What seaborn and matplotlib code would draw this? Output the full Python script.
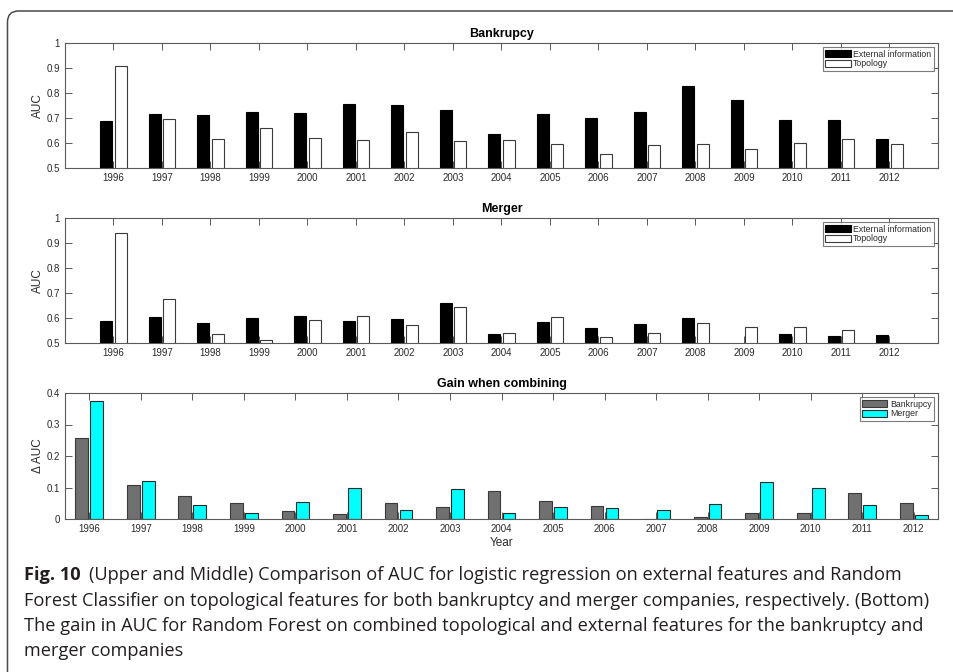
import matplotlib
matplotlib.use("Agg")
import matplotlib.pyplot as plt
import pandas as pd
import seaborn as sns
from matplotlib.patches import Patch, PathPatch
from matplotlib.path import Path

# ---- data -------------------------------------------------------------
years = ["1996", "1997", "1998", "1999", "2000", "2001", "2002", "2003", "2004",
         "2005", "2006", "2007", "2008", "2009", "2010", "2011", "2012"]

bankruptcy_external = [0.690, 0.718, 0.711, 0.723, 0.721, 0.757, 0.752, 0.731, 0.635,
                       0.715, 0.699, 0.724, 0.830, 0.773, 0.691, 0.691, 0.615]
bankruptcy_topology = [0.910, 0.696, 0.615, 0.660, 0.621, 0.611, 0.643, 0.607, 0.613,
                       0.597, 0.557, 0.593, 0.597, 0.578, 0.601, 0.617, 0.595]

merger_external = [0.587, 0.603, 0.581, 0.600, 0.609, 0.588, 0.597, 0.659, 0.535,
                   0.584, 0.559, 0.575, 0.600, 0.490, 0.537, 0.529, 0.533]
merger_topology = [0.940, 0.677, 0.536, 0.512, 0.593, 0.608, 0.572, 0.643, 0.541,
                   0.604, 0.524, 0.541, 0.579, 0.564, 0.564, 0.553, 0.490]

gain_bankruptcy = [0.257, 0.107, 0.074, 0.050, 0.024, 0.016, 0.052, 0.038, 0.090,
                   0.056, 0.041, 0.000, 0.005, 0.020, 0.018, 0.083, 0.052]
gain_merger = [0.375, 0.122, 0.044, 0.020, 0.053, 0.097, 0.027, 0.094, 0.020,
               0.037, 0.035, 0.027, 0.049, 0.116, 0.098, 0.043, 0.012]

auc_ticks = [0.5, 0.6, 0.7, 0.8, 0.9, 1.0]
auc_labels = ["0.5", "0.6", "0.7", "0.8", "0.9", "1"]
gain_ticks = [0.0, 0.1, 0.2, 0.3, 0.4]
gain_labels = ["0", "0.1", "0.2", "0.3", "0.4"]

auc_series = ["External information", "Topology"]
gain_series = ["Bankrupcy", "Merger"]

caption_head = "Fig. 10"
caption_lines = [
    "(Upper and Middle) Comparison of AUC for logistic regression on external features and Random",
    "Forest Classifier on topological features for both bankruptcy and merger companies, respectively. (Bottom)",
    "The gain in AUC for Random Forest on combined topological and external features for the bankruptcy and",
    "merger companies",
]

# ---- style --------------------------------------------------------------
sns.set_style("white")
plt.rcParams["font.family"] = ["Liberation Sans", "DejaVu Sans"]
SPINE = "#5a5a5a"
TEXT = "#2a2a2a"

W, H = 954, 672
fig = plt.figure(figsize=(W / 100, H / 100), dpi=100)


def px_axes(left, top, right, bottom):
    return fig.add_axes([left / W, 1 - bottom / H, (right - left) / W, (bottom - top) / H])


def panel(ax, first, second, names, colors, edges, ylim, ticks, labels, title, ylabel, xlim):
    df = pd.DataFrame({
        "year": years * 2,
        "value": first + second,
        "series": [names[0]] * len(years) + [names[1]] * len(years),
    })
    sns.barplot(data=df, x="year", y="value", hue="series", order=years,
                hue_order=names, palette=colors, width=0.58, gap=0.15,
                saturation=1, errorbar=None, linewidth=0.8, legend=False, ax=ax)
    for cont, ec in zip(ax.containers, edges):
        for p in cont:
            p.set_edgecolor(ec)
    ax.set_xlim(*xlim)
    ax.set_ylim(*ylim)
    ax.set_yticks(ticks)
    ax.set_yticklabels(labels)
    ax.set_xlabel("")
    ax.set_ylabel(ylabel, fontsize=8.5, color=TEXT, labelpad=2)
    ax.set_title(title, fontsize=9, fontweight="bold", color="black", pad=4)
    ax.tick_params(direction="in", length=5, width=0.7, color=SPINE,
                   labelsize=7, labelcolor=TEXT, pad=3.5,
                   top=True, bottom=True, left=True, right=True)
    for s in ax.spines.values():
        s.set_visible(True)
        s.set_color(SPINE)
        s.set_linewidth(0.8)
    handles = [Patch(facecolor=c, edgecolor=e, linewidth=0.8, label=n)
               for c, e, n in zip(colors, edges, names)]
    leg = ax.legend(handles=handles, loc="upper right", fontsize=6.3, frameon=True,
                    fancybox=False, edgecolor=SPINE, borderpad=0.25, labelspacing=0.1,
                    handlelength=2.9, handleheight=0.8, handletextpad=0.3,
                    borderaxespad=0.5)
    leg.get_frame().set_linewidth(0.8)
    for t in leg.get_texts():
        t.set_color(TEXT)


ax1 = px_axes(65, 43, 938, 168)
panel(ax1, bankruptcy_external, bankruptcy_topology, auc_series,
      ["black", "white"], ["black", "#3a3a3a"], (0.5, 1.0), auc_ticks, auc_labels,
      "Bankrupcy", "AUC", (-1, 17))

ax2 = px_axes(65, 218, 938, 343)
panel(ax2, merger_external, merger_topology, auc_series,
      ["black", "white"], ["black", "#3a3a3a"], (0.5, 1.0), auc_ticks, auc_labels,
      "Merger", "AUC", (-1, 17))

ax3 = px_axes(65, 393, 938, 519)
panel(ax3, gain_bankruptcy, gain_merger, gain_series,
      ["#707070", "#00ffff"], ["#3a3a3a", "#2a2a2a"], (0.0, 0.4), gain_ticks, gain_labels,
      "Gain when combining", "\u0394 AUC", (-0.47, 16.47))
ax3.set_xlabel("Year", fontsize=8.5, color=TEXT, labelpad=2)

# ---- rounded frame around the figure (open at right and bottom) ---------
r = 11
x0, y0 = 7.5, 11
verts = [(x0, H + 2), (x0, y0 + r), (x0, y0), (x0 + r, y0), (W + 2, y0)]
codes = [Path.MOVETO, Path.LINETO, Path.CURVE3, Path.CURVE3, Path.LINETO]
verts = [(x / W, 1 - y / H) for x, y in verts]
fig.add_artist(PathPatch(Path(verts, codes), fill=False, edgecolor="#4a4a4a",
                         linewidth=1.1, transform=fig.transFigure))

# ---- caption -------------------------------------------------------------
cap_family = ["Open Sans", "DejaVu Sans"]
cap_color = "#231f20"
renderer = fig.canvas.get_renderer()

probe = fig.text(0, 0, caption_lines[1], fontsize=13, family=cap_family)
w = probe.get_window_extent(renderer).width
probe.remove()
fs = 13 * (927 - 24) / w

left = 24
baselines = [580, 605.5, 631, 656.5]
head = fig.text(left / W, 1 - baselines[0] / H, caption_head, fontsize=fs,
                family=cap_family, fontweight="bold", color=cap_color, va="baseline")
hx = head.get_window_extent(renderer).x1
fig.text((hx + 8) / W, 1 - baselines[0] / H, caption_lines[0], fontsize=fs,
         family=cap_family, color=cap_color, va="baseline")
for line, yb in zip(caption_lines[1:], baselines[1:]):
    fig.text(left / W, 1 - yb / H, line, fontsize=fs, family=cap_family,
             color=cap_color, va="baseline")

fig.savefig("out.png", dpi=100)
